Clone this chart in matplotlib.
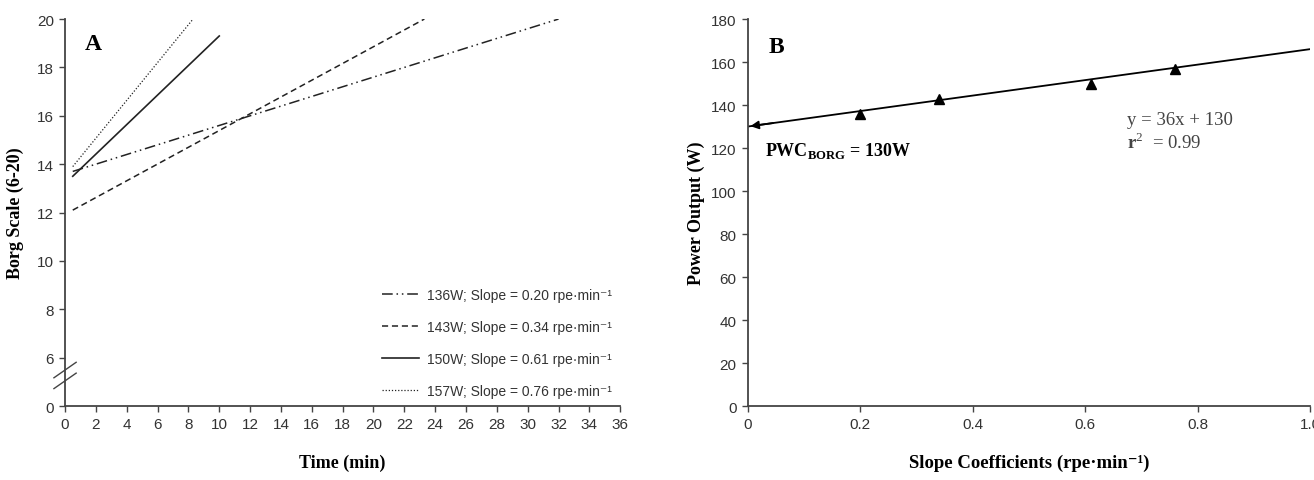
import matplotlib
matplotlib.use("Agg")
import matplotlib.pyplot as plt

# ---- Data ----
# Panel A: individual regression lines (time in min, Borg rating)
series_labels = ["136W; Slope = 0.20 rpe·min⁻¹", "143W; Slope = 0.34 rpe·min⁻¹",
                 "150W; Slope = 0.61 rpe·min⁻¹", "157W; Slope = 0.76 rpe·min⁻¹"]
start_time = [0.5, 0.5, 0.5, 0.5]
end_time = [32.0, 23.3, 10.0, 8.3]
start_rpe = [13.7, 12.1, 13.5, 13.9]
end_rpe = [20.0, 20.0, 19.3, 20.0]

a_xticks = list(range(0, 37, 2))
a_yticks = [4, 6, 8, 10, 12, 14, 16, 18, 20]
a_yticklabels = ["0", "6", "8", "10", "12", "14", "16", "18", "20"]

# Panel B: slope coefficients vs power output
slopes = [0.20, 0.34, 0.61, 0.76]
power = [136, 143, 150, 157]
fit_x = [0.0, 1.0]
fit_y = [130, 166]
b_xticks = [0, 0.2, 0.4, 0.6, 0.8, 1.0]
b_xticklabels = ["0", "0.2", "0.4", "0.6", "0.8", "1.0"]
b_yticks = list(range(0, 181, 20))

plt.rcParams['mathtext.fontset'] = 'custom'
plt.rcParams['mathtext.rm'] = 'Liberation Serif'
plt.rcParams['mathtext.bf'] = 'Liberation Serif:bold'

SANS = ['Liberation Sans', 'DejaVu Sans']
SERIF = ['Liberation Serif', 'DejaVu Serif']
AX_COL = '#444444'

fig = plt.figure(figsize=(13.14, 4.81), dpi=100)
axA = fig.add_axes([0.0495, 0.1538, 0.4225, 0.8045])
axB = fig.add_axes([0.569, 0.1538, 0.428, 0.8045])

styles = [(0, (7, 2.5, 1, 2.5, 1, 2.5)), (0, (4, 2.5)), '-', (0, (1, 1.5))]
widths = [1.1, 1.1, 1.2, 0.9]
for i in range(4):
    axA.plot([start_time[i], end_time[i]], [start_rpe[i], end_rpe[i]],
             color='#222222', linestyle=styles[i], linewidth=widths[i],
             label=series_labels[i])

axA.set_xlim(0, 36)
axA.set_ylim(4, 20)
axA.set_xticks(a_xticks)
axA.set_yticks(a_yticks)
axA.set_yticklabels(a_yticklabels)

leg = axA.legend(loc='lower right', frameon=False, prop={'family': SANS, 'size': 10},
                 handlelength=2.6, labelspacing=1.3, bbox_to_anchor=(1.0, 0.0),
                 handletextpad=0.6, borderaxespad=0.2)
for t in leg.get_texts():
    t.set_color('#333333')

axA.text(0.036, 0.965, 'A', transform=axA.transAxes, fontsize=17, fontweight='bold',
         family=SERIF, va='top', ha='left')
axA.set_xlabel('Time (min)', family=SERIF, fontweight='bold', fontsize=13, labelpad=16)
axA.set_ylabel('Borg Scale (6-20)', family=SERIF, fontweight='bold', fontsize=13, labelpad=9)

# axis break marks
for dy in [0.0, 0.028]:
    axA.plot([-0.02, 0.02], [0.045 + dy, 0.085 + dy], transform=axA.transAxes,
             color=AX_COL, linewidth=1.0, clip_on=False)

# Panel B
axB.plot(fit_x, fit_y, color='black', linewidth=1.3)
axB.annotate('', xy=(fit_x[0], fit_y[0]), xytext=(0.05, fit_y[0] + 36 * 0.05),
             arrowprops=dict(arrowstyle='-|>', color='black', lw=1.3, mutation_scale=12))
axB.plot(slopes, power, linestyle='none', marker='^', color='black', markersize=6.5)
axB.set_xlim(0, 1.0)
axB.set_ylim(0, 180)
axB.set_xticks(b_xticks)
axB.set_xticklabels(b_xticklabels)
axB.set_yticks(b_yticks)

axB.text(0.038, 0.955, 'B', transform=axB.transAxes, fontsize=17, fontweight='bold',
         family=SERIF, va='top', ha='left')
axB.text(0.03, 119, r'PWC$_{\mathbf{BORG}}$ = 130W', fontsize=13, fontweight='bold',
         family=SERIF, va='center', ha='left')
axB.text(0.675, 133.5, 'y = 36x + 130', fontsize=13.5, family=SERIF, color='#444444',
         va='center', ha='left')
axB.text(0.675, 123, r'$\mathbf{r}^{2}$  = 0.99', fontsize=13.5, family=SERIF, color='#444444',
         va='center', ha='left')
axB.set_xlabel('Slope Coefficients (rpe·min⁻¹)', family=SERIF, fontweight='bold',
               fontsize=13.5, labelpad=16)
axB.set_ylabel('Power Output (W)', family=SERIF, fontweight='bold', fontsize=13, labelpad=4)

for ax in (axA, axB):
    ax.spines['top'].set_visible(False)
    ax.spines['right'].set_visible(False)
    for s in ('left', 'bottom'):
        ax.spines[s].set_color(AX_COL)
        ax.spines[s].set_linewidth(1.3)
    ax.tick_params(direction='out', length=4, width=1.0, color=AX_COL,
                   labelsize=11, labelcolor='#333333', pad=4)
    for lab in ax.get_xticklabels() + ax.get_yticklabels():
        lab.set_family(SANS)

fig.savefig('out.png', dpi=100, facecolor='white')
